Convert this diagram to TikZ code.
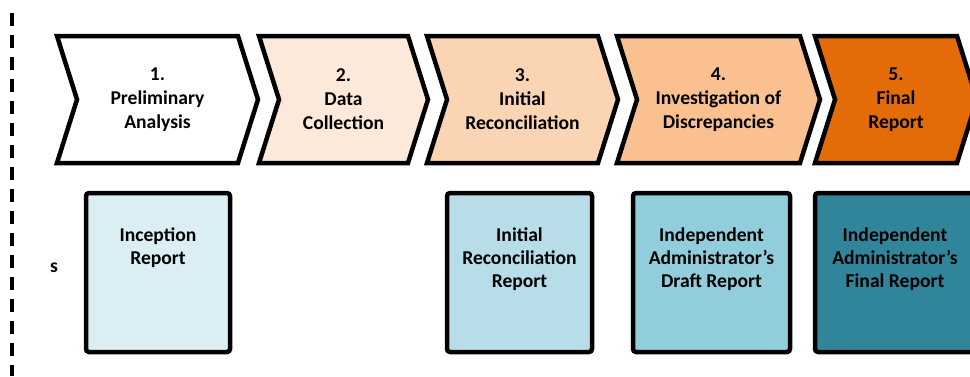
\documentclass[tikz,border=0pt]{standalone}
\usepackage{fontspec}
\setmainfont{Carlito}
\usetikzlibrary{shapes.symbols, positioning}
\definecolor{peach1}{HTML}{FDE9D9}
\definecolor{peach2}{HTML}{FBD4B4}
\definecolor{peach3}{HTML}{FAC08F}
\definecolor{orange5}{HTML}{E36C09}
\definecolor{aqua1}{HTML}{DAEEF3}
\definecolor{aqua2}{HTML}{B6DDE8}
\definecolor{aqua3}{HTML}{92CDDC}
\definecolor{teal5}{HTML}{31859B}

\begin{document}
\begin{tikzpicture}[x=1pt, y=-1pt,
  stage/.style={signal, signal from=west, signal to=east, signal pointer angle=145,
    draw, line width=4.5pt, minimum height=127pt, align=center, inner sep=0pt,
    font=\fontsize{19.6}{24}\selectfont\bfseries},
  report/.style={draw, line width=4.5pt, rounded corners=3pt, minimum height=159pt},
  rtext/.style={anchor=north, align=center, inner sep=0pt,
    font=\fontsize{19.6}{23}\selectfont\bfseries}
]
  \useasboundingbox (0,0) rectangle (970,376);

  % Left margin line
  \draw[line width=4pt, dash pattern=on 13pt off 9pt] (12,13) -- (12,376);
  \node[font=\fontsize{19.6}{24}\selectfont\bfseries] (side) at (54,268) {s};

  % Stages
  \node[stage, fill=white, minimum width=201pt] (s1) at (157.5,99.5) {1.\\Preliminary\\Analysis};
  \node[stage, fill=peach1, minimum width=169pt] (s2) at (343.5,99.5) {2.\\Data\\Collection};
  \node[stage, fill=peach2, minimum width=191pt] (s3) at (522.5,99.5) {3.\\Initial\\Reconciliation};
  \node[stage, fill=peach3, minimum width=203pt] (s4) at (718.5,99.5) {4.\\Investigation of\\Discrepancies};
  \node[stage, fill=orange5, minimum width=162pt] (s5) at (896,99.5) {5.\\Final\\Report};

  % Reports
  \node[report, fill=aqua1, minimum width=144pt] (r1) at (158,272.5) {};
  \node[report, fill=aqua2, minimum width=145pt] (r3) at (519.5,272.5) {};
  \node[report, fill=aqua3, minimum width=157pt] (r4) at (711.5,272.5) {};
  \node[report, fill=teal5, minimum width=160pt] (r5) at (895,272.5) {};

  \node[rtext, below=37pt of r1.north] (t1) {Inception\\Report};
  \node[rtext, below=37pt of r3.north] (t3) {Initial\\Reconciliation\\Report};
  \node[rtext, below=37pt of r4.north] (t4) {Independent\\Administrator’s\\Draft Report};
  \node[rtext, below=37pt of r5.north] (t5) {Independent\\Administrator’s\\Final Report};
\end{tikzpicture}
\end{document}
